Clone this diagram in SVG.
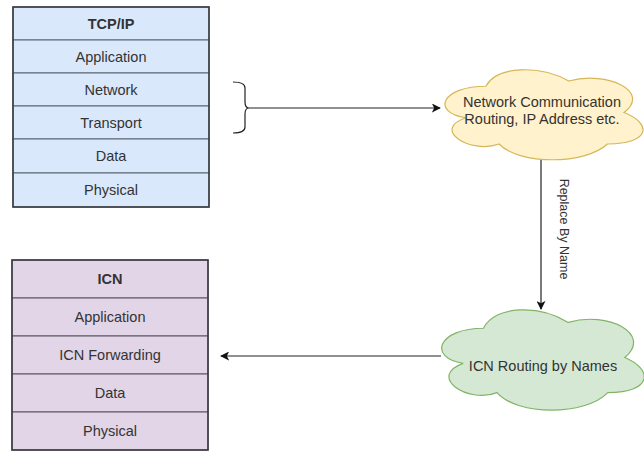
<svg xmlns="http://www.w3.org/2000/svg" width="644" height="451" viewBox="0 0 644 451">
<style>
  .t { font-family: "Liberation Sans", Arial, sans-serif; font-size: 14.5px; fill: #333333; text-anchor: middle; }
  .b { font-weight: bold; }
  .blue { fill: #dae8fc; stroke: #5a6470; stroke-width: 1; }
  .purple { fill: #e1d5e7; stroke: #5a5460; stroke-width: 1; }
  .outer { fill: none; stroke: #3a3d42; stroke-width: 1.6; }
  .conn { fill: none; stroke: #222222; stroke-width: 1.2; }
  .lbl { font-family: "Liberation Sans", Arial, sans-serif; font-size: 12.5px; fill: #333333; text-anchor: middle; }
</style>
<defs>
  <marker id="arr" viewBox="0 0 10 10" refX="9" refY="5" markerWidth="9" markerHeight="9" markerUnits="userSpaceOnUse" orient="auto">
    <path d="M0,0 L10,5 L0,10 L2.5,5 Z" fill="#111111"/>
  </marker>
</defs>
<rect width="644" height="451" fill="#ffffff"/>

<g id="tcpip">
  <rect class="blue" x="13" y="7" width="196" height="33"/>
  <rect class="blue" x="13" y="40" width="196" height="33"/>
  <rect class="blue" x="13" y="73" width="196" height="33"/>
  <rect class="blue" x="13" y="106" width="196" height="33"/>
  <rect class="blue" x="13" y="139" width="196" height="34"/>
  <rect class="blue" x="13" y="173" width="196" height="34"/>
  <rect class="outer" x="13" y="7" width="196" height="200"/>
  <text class="t b" x="111" y="29">TCP/IP</text>
  <text class="t" x="111" y="62">Application</text>
  <text class="t" x="111" y="95">Network</text>
  <text class="t" x="111" y="128">Transport</text>
  <text class="t" x="111" y="161">Data</text>
  <text class="t" x="111" y="195">Physical</text>
</g>

<g id="icn">
  <rect class="purple" x="12" y="260" width="196" height="38"/>
  <rect class="purple" x="12" y="298" width="196" height="38"/>
  <rect class="purple" x="12" y="336" width="196" height="38"/>
  <rect class="purple" x="12" y="374" width="196" height="38"/>
  <rect class="purple" x="12" y="412" width="196" height="38"/>
  <rect class="outer" x="12" y="260" width="196" height="190"/>
  <text class="t b" x="110" y="284">ICN</text>
  <text class="t" x="110" y="322">Application</text>
  <text class="t" x="110" y="360">ICN Forwarding</text>
  <text class="t" x="110" y="398">Data</text>
  <text class="t" x="110" y="436">Physical</text>
</g>

<g id="cloud1">
  <path d="M485.85,86.25 C441.65,86.25 430.6,112.5 466,117.75 C430.6,129.3 470.4,154.5 499.1,144 C519,165 585.3,165 607.4,144 C651.6,144 651.6,123 624,112.5 C651.6,91.5 607.4,70.5 568.7,81 C541.1,65.25 496.9,65.25 485.85,86.25 Z" fill="#fff2cc" stroke="#d6b656" stroke-width="1.2"/>
  <text class="t" x="542" y="107">Network Communication</text>
  <text class="t" x="542" y="124">Routing, IP Address etc.</text>
</g>

<g id="cloud2">
  <path d="M483.5,328.25 C438.3,328.25 427,357.5 463.2,363.35 C427,376.2 467.7,404.3 497,392.6 C517.4,416 585.2,416 607.8,392.6 C653,392.6 653,369.2 624.75,357.5 C653,334.1 607.8,310.7 568.25,322.4 C540,304.85 494.8,304.85 483.5,328.25 Z" fill="#d5e8d4" stroke="#82b366" stroke-width="1.2"/>
  <text class="t" x="543" y="371">ICN Routing by Names</text>
</g>

<g id="connectors">
  <path class="conn" d="M233,82 Q245,82 245,88 L245,102 Q245,108 249,108 Q245,108 245,114 L245,127 Q245,133 233,133"/>
  <line class="conn" x1="249" y1="108" x2="440" y2="108" marker-end="url(#arr)"/>
  <line class="conn" x1="541" y1="160" x2="541" y2="309" marker-end="url(#arr)"/>
  <text class="lbl" transform="translate(560,229) rotate(90)">Replace By Name</text>
  <line class="conn" x1="441" y1="356" x2="221" y2="356" marker-end="url(#arr)"/>
</g>
</svg>
